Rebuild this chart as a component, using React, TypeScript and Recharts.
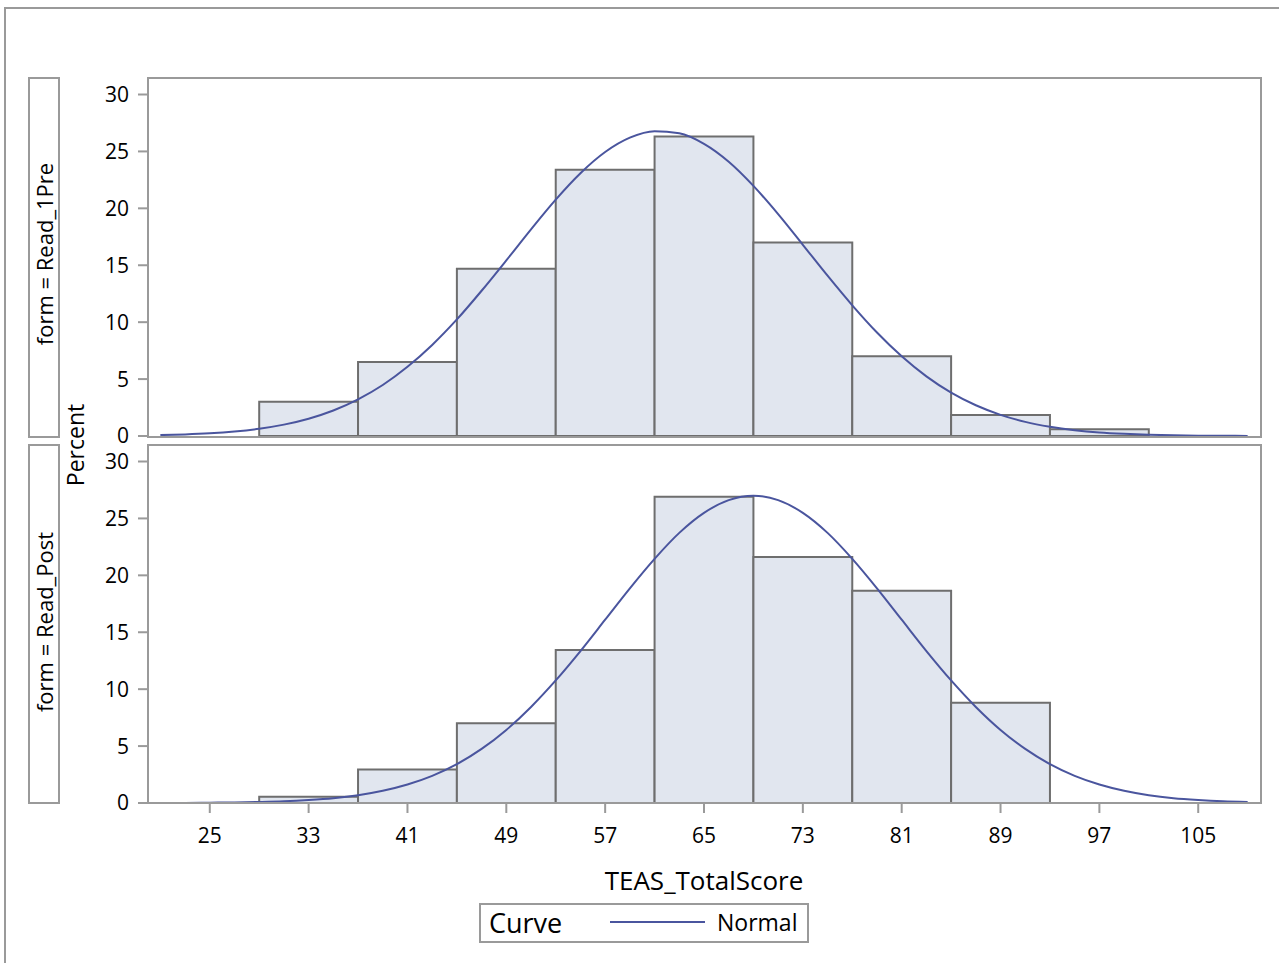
import { ComposedChart, Line, XAxis, YAxis, ReferenceArea } from "recharts";
import type { CSSProperties } from "react";

// histogram bins (lower edge, width 8)
const binStarts = [29, 37, 45, 53, 61, 69, 77, 85, 93];
const binWidth = 8;
const prePct = [3.0, 6.5, 14.7, 23.4, 26.3, 17.0, 7.0, 1.85, 0.6];
const postPct = [0.55, 2.95, 7.0, 13.45, 26.9, 21.6, 18.65, 8.8, 0];

const curveX = [
    21, 23, 25, 27, 29, 31, 33, 35, 37, 39, 41, 43, 45, 47, 49, 51, 53, 55, 57, 59, 61, 63, 65,
    67, 69, 71, 73, 75, 77, 79, 81, 83, 85, 87, 89, 91, 93, 95, 97, 99, 101, 103, 105, 107, 109,
];
const preCurve = [
    0.08, 0.14, 0.24, 0.4, 0.64, 1.0, 1.52, 2.24, 3.22, 4.48, 6.08, 8.0, 10.24, 12.76, 15.43,
    18.16, 20.77, 23.09, 24.95, 26.21, 26.78, 26.59, 25.66, 24.09, 21.97, 19.49, 16.8, 14.08,
    11.48, 9.09, 7.0, 5.24, 3.81, 2.7, 1.86, 1.24, 0.81, 0.51, 0.31, 0.19, 0.11, 0.06, 0.03,
    0.02, 0.01,
];
const postCurve = [
    0.01, 0.01, 0.03, 0.05, 0.09, 0.15, 0.26, 0.42, 0.68, 1.07, 1.62, 2.38, 3.41, 4.75, 6.42,
    8.44, 10.77, 13.35, 16.1, 18.86, 21.45, 23.73, 25.49, 26.61, 27.0, 26.61, 25.49, 23.73,
    21.45, 18.86, 16.1, 13.35, 10.77, 8.44, 6.42, 4.75, 3.41, 2.38, 1.62, 1.07, 0.68, 0.42,
    0.26, 0.15, 0.09,
];

const xTicks = [25, 33, 41, 49, 57, 65, 73, 81, 89, 97, 105];
const yTicks = [0, 5, 10, 15, 20, 25, 30];

const FONT = "'Open Sans', 'DejaVu Sans', sans-serif";
const GRAY = "#9a9a9a";
const CURVE = "#4a559e";

const tickStyle = { fontSize: 21, fill: "#000", fontFamily: FONT };

function Panel({
    pct,
    curve,
    showX,
}: {
    pct: number[];
    curve: number[];
    showX: boolean;
}) {
    const data = curveX.map((x, i) => ({ x, y: curve[i] }));
    return (
        <ComposedChart
            width={1173}
            height={showX ? 424 : 378}
            data={data}
            margin={{ top: 0, right: 1, bottom: showX ? 0 : 20, left: 0 }}
        >
            <XAxis
                dataKey="x"
                type="number"
                domain={[20, 110]}
                ticks={xTicks}
                interval={0}
                hide={!showX}
                height={66}
                tick={tickStyle}
                tickSize={10}
                tickMargin={15}
                stroke={GRAY}
                strokeWidth={2}
                allowDataOverflow
            />
            <YAxis
                type="number"
                domain={[0, 31.45]}
                ticks={yTicks}
                interval={0}
                width={60}
                tick={tickStyle}
                tickSize={10}
                tickMargin={9}
                stroke={GRAY}
                strokeWidth={2}
                allowDataOverflow
            />
            {binStarts.map((lo, i) =>
                pct[i] > 0 ? (
                    <ReferenceArea
                        key={lo}
                        x1={lo}
                        x2={lo + binWidth}
                        y1={0}
                        y2={pct[i]}
                        fill="#e1e6ef"
                        fillOpacity={1}
                        stroke="#6e6e6e"
                        strokeWidth={2}
                    />
                ) : null
            )}
            <Line
                dataKey="y"
                type="monotone"
                stroke={CURVE}
                strokeWidth={2}
                dot={false}
                activeDot={false}
                isAnimationActive={false}
            />
        </ComposedChart>
    );
}

function Rotated({ cx, cy, text, size }: { cx: number; cy: number; text: string; size: number }) {
    return (
        <div
            style={{
                position: "absolute",
                left: cx,
                top: cy,
                transform: "translate(-50%, -50%) rotate(-90deg)",
                whiteSpace: "nowrap",
                fontSize: size,
                fontFamily: FONT,
                color: "#000",
            }}
        >
            {text}
        </div>
    );
}

function Label({ x, cy, text, size }: { x: number; cy: number; text: string; size: number }) {
    return (
        <div
            style={{
                position: "absolute",
                left: x,
                top: cy,
                transform: "translateY(-50%)",
                whiteSpace: "nowrap",
                fontSize: size,
                color: "#000",
            }}
        >
            {text}
        </div>
    );
}

const boxStyle: CSSProperties = {
    position: "absolute",
    border: `2px solid ${GRAY}`,
    boxSizing: "border-box",
};

export default function App() {
    return (
        <div
            style={{
                position: "fixed",
                left: 0,
                top: 0,
                width: 1279,
                height: 963,
                background: "#fff",
                overflow: "hidden",
                fontFamily: FONT,
            }}
        >
            {/* outer frame */}
            <div
                style={{
                    position: "absolute",
                    left: 4,
                    top: 7,
                    width: 1275,
                    height: 956,
                    borderTop: `2px solid ${GRAY}`,
                    borderLeft: `2px solid ${GRAY}`,
                }}
            />

            {/* row label boxes */}
            <div style={{ ...boxStyle, left: 28, top: 77, width: 32, height: 361 }} />
            <div style={{ ...boxStyle, left: 28, top: 444, width: 32, height: 360 }} />
            <Rotated cx={44} cy={254} text="form = Read_1Pre" size={22} />
            <Rotated cx={44} cy={622} text="form = Read_Post" size={22} />
            <Rotated cx={75} cy={445} text="Percent" size={23} />

            {/* panels */}
            <div style={{ position: "absolute", left: 88, top: 78 }}>
                <Panel pct={prePct} curve={preCurve} showX={false} />
            </div>
            <div style={{ ...boxStyle, left: 147, top: 77, width: 1115, height: 361, pointerEvents: "none" }} />

            <div style={{ position: "absolute", left: 88, top: 445 }}>
                <Panel pct={postPct} curve={postCurve} showX={true} />
            </div>
            <div style={{ ...boxStyle, left: 147, top: 444, width: 1115, height: 360, pointerEvents: "none" }} />

            {/* x axis title */}
            <div
                style={{
                    position: "absolute",
                    left: 704,
                    top: 880,
                    transform: "translate(-50%, -50%)",
                    fontSize: 26,
                    color: "#000",
                    whiteSpace: "nowrap",
                }}
            >
                TEAS_TotalScore
            </div>

            {/* legend */}
            <div style={{ ...boxStyle, left: 479, top: 903, width: 330, height: 40 }} />
            <Label x={489} cy={922} text="Curve" size={27} />
            <div
                style={{
                    position: "absolute",
                    left: 610,
                    top: 921,
                    width: 95,
                    height: 2,
                    background: CURVE,
                }}
            />
            <Label x={717} cy={922} text="Normal" size={23} />
        </div>
    );
}
